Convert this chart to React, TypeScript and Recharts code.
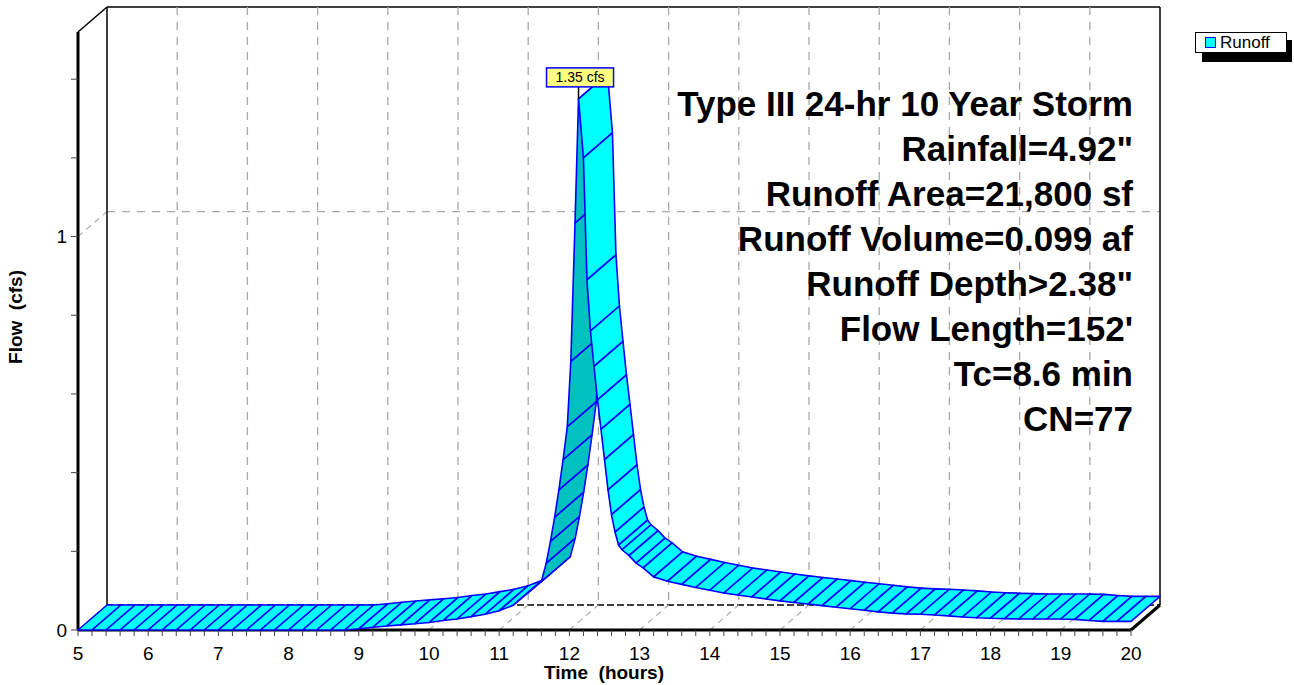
import React from "react";
import { ComposedChart, Line, XAxis, YAxis, CartesianGrid } from "recharts";

// hydrograph (hours, cfs)
const hours = [
  5.0, 5.2, 5.4, 5.6, 5.8, 6.0, 6.2, 6.4, 6.6, 6.8, 7.0, 7.2, 7.4, 7.6, 7.8, 8.0, 8.2, 8.4, 8.6, 8.8,
  9.0, 9.2, 9.4, 9.6, 9.8, 10.0, 10.2, 10.4, 10.6, 10.8, 11.0, 11.2, 11.4, 11.6,
  11.67, 11.73, 11.79, 11.85, 11.91, 11.97, 12.02, 12.08, 12.13,
  12.2, 12.25, 12.3, 12.35, 12.4, 12.45, 12.5, 12.55, 12.6, 12.65, 12.7, 12.75, 12.85, 12.95, 13.05, 13.2,
  13.4, 13.6, 13.8, 14.0, 14.2, 14.4, 14.6, 14.8, 15.0, 15.2, 15.4, 15.6, 15.8, 16.0, 16.2, 16.4, 16.6, 16.8,
  17.0, 17.2, 17.4, 17.6, 17.8, 18.0, 18.2, 18.4, 18.6, 18.8, 19.0, 19.2, 19.4, 19.6, 19.8, 20.0,
];
const flows = [
  0, 0, 0, 0, 0, 0, 0, 0, 0, 0, 0, 0, 0, 0, 0, 0, 0, 0, 0, 0,
  0.003, 0.007, 0.010, 0.013, 0.016, 0.019, 0.024, 0.028, 0.034, 0.040, 0.049, 0.063, 0.093, 0.123,
  0.17, 0.225, 0.287, 0.356, 0.433, 0.517, 0.683, 1.035, 1.35,
  1.2, 0.89, 0.76, 0.67, 0.585, 0.51, 0.433, 0.356, 0.293, 0.249, 0.216, 0.204, 0.189, 0.17, 0.158, 0.135,
  0.124, 0.116, 0.108, 0.101, 0.094, 0.089, 0.084, 0.079, 0.074, 0.07, 0.066, 0.062, 0.058, 0.054, 0.05, 0.046, 0.043, 0.041,
  0.04, 0.038, 0.036, 0.033, 0.031, 0.03, 0.029, 0.028, 0.028, 0.028, 0.028, 0.027, 0.024, 0.022, 0.022, 0.022,
];

const majorHours = [5, 6, 7, 8, 9, 10, 11, 12, 13, 14, 15, 16, 17, 18, 19, 20];
const flowTicks = [0, 0.2, 0.4, 0.6, 0.8, 1, 1.2, 1.4];
const flowLabels = [0, 1];
const flowMax = 1.52;
const seriesName = "Runoff";
const peakText = "1.35 cfs";
const notes = [
  "Type III 24-hr 10 Year Storm",
  "Rainfall=4.92\"",
  "Runoff Area=21,800 sf",
  "Runoff Volume=0.099 af",
  "Runoff Depth>2.38\"",
  "Flow Length=152'",
  "Tc=8.6 min",
  "CN=77",
];

const data = hours.map((t, i) => ({ t, q: flows[i] }));
const peakIndex = flows.indexOf(Math.max(...flows));
const minorTicks = Array.from({ length: 76 }, (_, i) => 5 + i * 0.2);

// oblique depth of the 3d box
const DX = 29;
const DY = -25;
const TOP = "#00FFFF";
const UNDER = "#00C0C0";
const EDGE = "#0000FF";
const GRID = "#A8A8A8";

let trail: { x: number; y: number }[] = [];

function RibbonFacet(props: any) {
  const { cx, cy, index, points } = props;
  if (index === 0) trail = [];
  trail[index] = { x: cx, y: cy };
  const p = points && points[index - 1];
  const a = p ? { x: p.x, y: p.y } : trail[index - 1];
  if (index === 0 || !a) return <g key={`f-${index}`} />;
  const b = { x: cx, y: cy };
  const cross = (b.x - a.x) * DY - (b.y - a.y) * DX;
  const pts = `${a.x},${a.y} ${b.x},${b.y} ${b.x + DX},${b.y + DY} ${a.x + DX},${a.y + DY}`;
  return (
    <polygon
      key={`f-${index}`}
      points={pts}
      fill={cross > 0 ? UNDER : TOP}
      stroke={EDGE}
      strokeWidth={1.6}
      strokeLinejoin="round"
    />
  );
}

function PeakTag(props: any) {
  const { cx, cy, index } = props;
  if (index !== peakIndex) return <g key={`p-${index}`} />;
  return (
    <g key="peak">
      <line x1={cx} y1={cy} x2={cx} y2={cy - 12} stroke="#000" strokeWidth={1.5} />
      <rect x={cx - 32} y={cy - 31} width={67} height={19} fill="#FFFF80" stroke={EDGE} strokeWidth={1.5} />
      <text x={cx + 1.5} y={cy - 16.5} textAnchor="middle" fontSize={14} fill="#000">
        {peakText}
      </text>
    </g>
  );
}

function HourTick(props: any) {
  const { x, y, payload } = props;
  const v = payload.value;
  const whole = Math.abs(v - Math.round(v)) < 1e-6;
  if (!whole) return <g />;
  return (
    <text x={x} y={y} dy="0.75em" textAnchor="middle" fontSize={19} fill="#000">
      {Math.round(v)}
    </text>
  );
}

function FlowTick(props: any) {
  const { x, y, payload } = props;
  if (!flowLabels.includes(payload.value)) return <g />;
  return (
    <text x={x} y={y} dy="0.36em" textAnchor="end" fontSize={19} fill="#000">
      {payload.value}
    </text>
  );
}

function HLine(props: any) {
  const { x1, y1, x2, y, height, index } = props;
  if (Math.abs(y1 - (y + height)) < 1) {
    return (
      <line key={`h-${index}`} x1={x1 + DX} y1={y1 + DY} x2={x2 + DX} y2={y1 + DY}
        stroke="#000" strokeWidth={1.5} strokeDasharray="7 3" />
    );
  }
  if (Math.abs(y1 - y) < 1) {
    return (
      <g key={`h-${index}`}>
        <line x1={x1 + DX} y1={y1 + DY} x2={x2 + DX} y2={y1 + DY} stroke="#000" strokeWidth={1.5} />
        <line x1={x1} y1={y1} x2={x1 + DX} y2={y1 + DY} stroke="#000" strokeWidth={1.5} />
      </g>
    );
  }
  return (
    <g key={`h-${index}`}>
      <line x1={x1 + DX} y1={y1 + DY} x2={x2 + DX} y2={y1 + DY} stroke={GRID} strokeWidth={1.3} strokeDasharray="8 7" />
      <line x1={x1} y1={y1} x2={x1 + DX} y2={y1 + DY} stroke={GRID} strokeWidth={1.1} strokeDasharray="6 5" />
    </g>
  );
}

function VLine(props: any) {
  const { x1, y1, y2, x, width, index } = props;
  const edge = Math.abs(x1 - x) < 1 || Math.abs(x1 - (x + width)) < 1;
  if (edge) {
    const right = Math.abs(x1 - (x + width)) < 1;
    return (
      <g key={`v-${index}`}>
        <line x1={x1 + DX} y1={y1 + DY} x2={x1 + DX} y2={y2 + DY} stroke="#000" strokeWidth={1.5} />
        {right && <line x1={x1} y1={y2} x2={x1 + DX} y2={y2 + DY} stroke="#000" strokeWidth={3} />}
      </g>
    );
  }
  return (
    <g key={`v-${index}`}>
      <line x1={x1 + DX} y1={y1 + DY} x2={x1 + DX} y2={y2 + DY} stroke={GRID} strokeWidth={1.3} strokeDasharray="8 7" />
      <line x1={x1} y1={y2} x2={x1 + DX} y2={y2 + DY} stroke={GRID} strokeWidth={1.1} strokeDasharray="6 5" />
    </g>
  );
}

export default function App() {
  return (
    <div
      style={{
        position: "fixed",
        left: 0,
        top: 0,
        width: 1294,
        height: 685,
        background: "#fff",
        fontFamily: "'Liberation Sans', Arial, sans-serif",
        color: "#000",
      }}
    >
      <ComposedChart width={1294} height={685} data={data} margin={{ top: 32, right: 163, bottom: 25, left: 18 }}>
        <CartesianGrid
          horizontalValues={[0, 1, flowMax]}
          verticalValues={majorHours}
          horizontal={HLine}
          vertical={VLine}
        />
        <XAxis
          dataKey="t"
          type="number"
          domain={[5, 20]}
          ticks={minorTicks}
          interval={0}
          height={30}
          tickSize={6}
          tickMargin={10}
          tick={HourTick}
          tickLine={{ stroke: "#444", strokeWidth: 1 }}
          axisLine={{ stroke: "#000", strokeWidth: 3 }}
        />
        <YAxis
          type="number"
          domain={[0, flowMax]}
          ticks={flowTicks}
          interval={0}
          width={60}
          tickSize={7}
          tickMargin={4}
          tick={FlowTick}
          tickLine={{ stroke: "#444", strokeWidth: 1 }}
          axisLine={{ stroke: "#000", strokeWidth: 3 }}
        />
        <Line
          dataKey="q"
          name={seriesName}
          stroke="none"
          dot={RibbonFacet}
          activeDot={false}
          isAnimationActive={false}
        />
        <Line
          dataKey="q"
          name="peak"
          stroke="none"
          dot={PeakTag}
          activeDot={false}
          legendType="none"
          isAnimationActive={false}
        />
      </ComposedChart>

      <div
        style={{
          position: "absolute",
          right: 161,
          top: 81,
          textAlign: "right",
          fontWeight: "bold",
          fontSize: 35,
          lineHeight: "45px",
          whiteSpace: "pre",
        }}
      >
        {notes.map((n) => (
          <div key={n}>{n}</div>
        ))}
      </div>

      <div
        style={{
          position: "absolute",
          left: 16,
          top: 317,
          transform: "translate(-50%, -50%) rotate(-90deg)",
          fontWeight: "bold",
          fontSize: 19,
          whiteSpace: "pre",
        }}
      >
        {"Flow  (cfs)"}
      </div>
      <div
        style={{
          position: "absolute",
          left: 604,
          top: 673,
          transform: "translate(-50%, -50%)",
          fontWeight: "bold",
          fontSize: 19,
          whiteSpace: "pre",
        }}
      >
        {"Time  (hours)"}
      </div>

      <div style={{ position: "absolute", left: 1202, top: 40, width: 90, height: 22, background: "#000" }} />
      <div
        style={{
          position: "absolute",
          left: 1195,
          top: 32,
          width: 92,
          height: 21,
          background: "#fff",
          border: "1px solid #000",
          boxSizing: "border-box",
          display: "flex",
          alignItems: "center",
          fontSize: 17,
        }}
      >
        <span
          style={{
            width: 11,
            height: 11,
            marginLeft: 9,
            background: TOP,
            border: `1.5px solid ${EDGE}`,
            boxSizing: "border-box",
          }}
        />
        <span style={{ marginLeft: 4 }}>{seriesName}</span>
      </div>
    </div>
  );
}
